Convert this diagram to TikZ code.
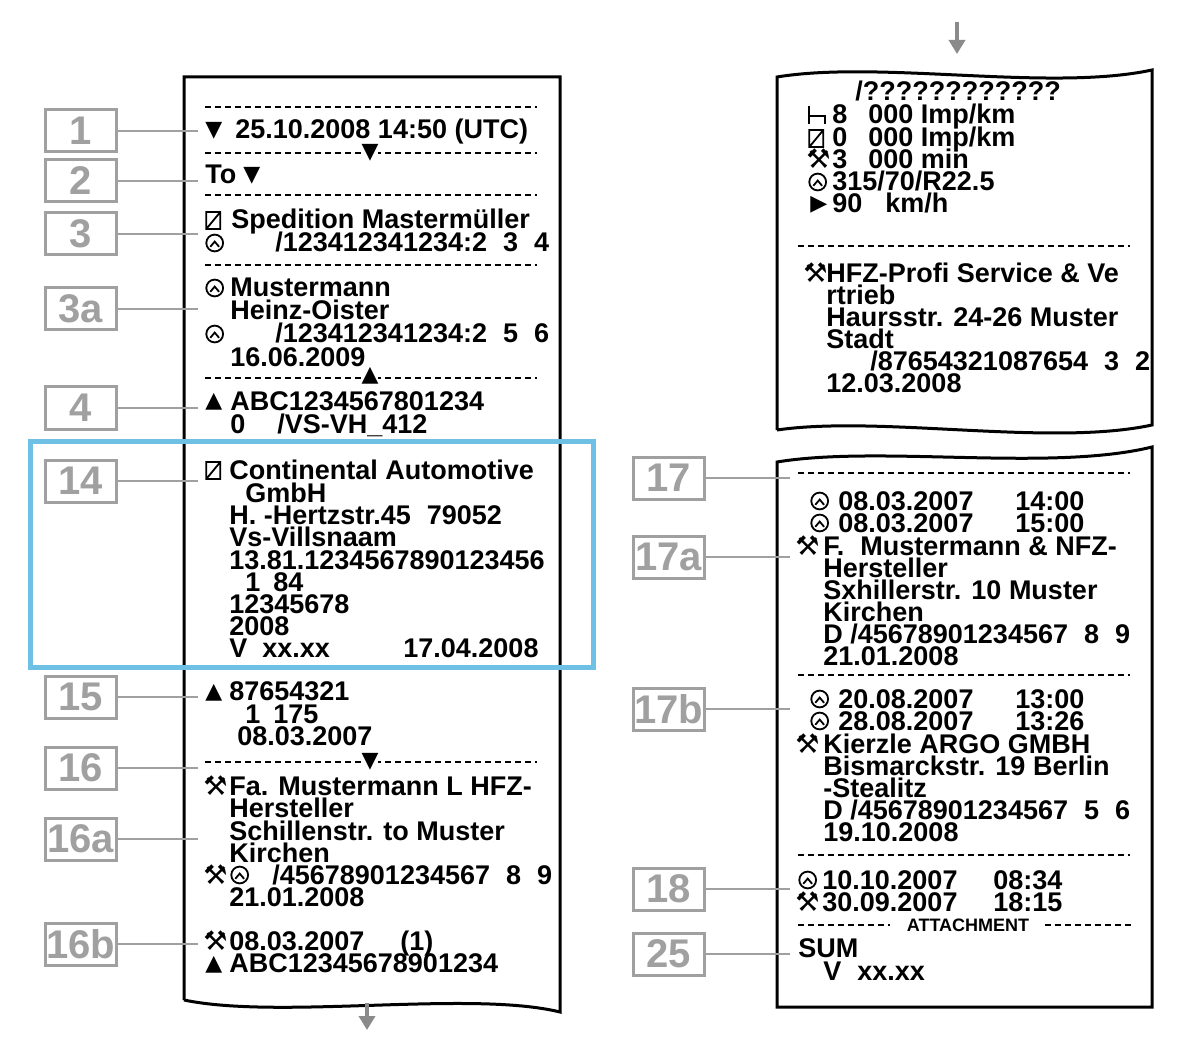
\documentclass[tikz,border=0pt]{standalone}
\usepackage{fontspec}
\setmainfont{Liberation Sans}
\newfontfamily\symf{DejaVu Sans}
\usetikzlibrary{arrows.meta}
\definecolor{lblgray}{HTML}{A0A0A0}
\definecolor{arrgray}{HTML}{8A8A8A}
\definecolor{frameblue}{HTML}{6EC1E4}
\newcommand{\cardsym}{\tikz[baseline=0pt]{\draw[line width=0.9pt] (0pt,0pt) rectangle (7pt,8.5pt) (0pt,0pt)--(7pt,8.5pt);}}
\newcommand{\drvsym}{\tikz[baseline=0pt]{\draw[line width=0.9pt] (4.5pt,4.5pt) circle (4.2pt); \draw[line width=0.9pt] (2.3pt,2.6pt)--(4.5pt,5.2pt)--(6.7pt,2.6pt);}}
\newcommand{\startsym}{\tikz[baseline=0pt]{\draw[line width=0.9pt] (0pt,0pt)--(0pt,9pt) (0pt,4pt)--(8pt,4pt)--(8pt,0pt);}}
\newcommand{\calsym}{{\symf\bfseries ⚒}}
\newcommand{\dn}{{\symf ▼}}
\newcommand{\up}{{\symf ▲}}
\newcommand{\rt}{{\symf ▶}}
\begin{document}
\begin{tikzpicture}[x=0.5pt,y=-0.5pt,
  txt/.style={anchor=base west,inner sep=0pt,font=\fontsize{13.5}{14}\selectfont\bfseries},
  sym/.style={anchor=base west,inner sep=0pt,font=\fontsize{11}{12}\selectfont},
  lbl/.style={draw=lblgray,line width=1.5pt,fill=white,minimum width=35.5pt,minimum height=21pt,inner sep=0pt,text=lblgray,font=\fontsize{20}{20}\selectfont\bfseries},
  conn/.style={draw=lblgray,line width=1pt},
  dsh/.style={line width=1.2pt,dash pattern=on 3pt off 2pt},
  paper/.style={line width=1.5pt},
  garr/.style={draw=arrgray,line width=2pt,-{Triangle[width=8pt,length=7pt]}}]
\useasboundingbox (0,0) rectangle (1200,1048);
% ---------- papers
\draw[paper] (184,1000) -- (184,77) -- (560,77) -- (560,1012) .. controls (470,990) and (280,1020) .. (184,1000);
\draw[paper] (777,430) -- (777,77) .. controls (880,60) and (1050,92) .. (1152,70) -- (1152,425) .. controls (1050,447) and (880,415) .. (777,430);
\draw[paper] (777,1007) -- (777,462) .. controls (880,445) and (1050,472) .. (1152,447) -- (1152,1007) -- cycle;
\coordinate (la1) at (367,1003); \coordinate (la2) at (367,1030);
\coordinate (ra1) at (957,22); \coordinate (ra2) at (957,54);
\draw[garr] (la1) -- (la2);
\draw[garr] (ra1) -- (ra2);
% ---------- blue frame
\draw[frameblue,line width=2.5pt] (30,441) rectangle (593,667);
% ---------- left dashed lines
\draw[dsh] (205,107) -- (537,107);
\draw[dsh] (205,153) -- (537,153);
\node[sym,fill=white,anchor=center] (tri1) at (370,153) {\dn};
\draw[dsh] (205,195) -- (537,195);
\draw[dsh] (205,265) -- (537,265);
\draw[dsh] (205,378) -- (537,378);
\node[sym,fill=white,anchor=center] (tri2) at (370,376) {\up};
\draw[dsh] (205,762) -- (537,762);
\node[sym,fill=white,anchor=center] (tri3) at (370,762) {\dn};
% ---------- left texts
\node[sym] (s1) at (205,137) {\dn};
\node[txt] (t1) at (235,139) {25.10.2008 14:50 (UTC)};
\node[txt] (t2) at (205,184) {To};
\node[sym] (s2) at (243,182) {\dn};
\node[txt] (s3) at (205,229) {\cardsym};
\node[txt] (t3) at (231,229) {Spedition Mastermüller};
\node[txt] (s4) at (205,252) {\drvsym};
\node[txt] (t4) at (275,252) {/123412341234:2\hspace{8pt}3\hspace{8pt}4};
\node[txt] (s5) at (205,297) {\drvsym};
\node[txt] (t5) at (230,297) {Mustermann};
\node[txt] (t6) at (230,320) {Heinz-Oister};
\node[txt] (s6) at (205,343) {\drvsym};
\node[txt] (t7) at (275,343) {/123412341234:2\hspace{8pt}5\hspace{8pt}6};
\node[txt] (t8) at (230,366) {16.06.2009};
\node[sym] (s7) at (205,408) {\up};
\node[txt] (t9) at (230,410) {ABC1234567801234};
\node[txt] (t10) at (230,433) {0};
\node[txt] (t11) at (277,433) {/VS-VH\_412};
\node[txt] (s8) at (205,479) {\cardsym};
\node[txt] (t12) at (229,479) {Continental Automotive};
\node[txt] (t13) at (245,502) {GmbH};
\node[txt] (t14) at (229,524) {H. -Hertzstr.45\hspace{8pt}79052};
\node[txt] (t15) at (229,546) {Vs-Villsnaam};
\node[txt] (t16) at (229,569) {13.81.1234567890123456};
\node[txt] (t17) at (245,591) {1};
\node[txt] (t18) at (273,591) {84};
\node[txt] (t19) at (229,613) {12345678};
\node[txt] (t20) at (229,635) {2008};
\node[txt] (t21) at (229,657) {V};
\node[txt] (t22) at (262,657) {xx.xx};
\node[txt] (t23) at (403,657) {17.04.2008};
\node[sym] (s9) at (205,698) {\up};
\node[txt] (t24) at (229,700) {87654321};
\node[txt] (t25) at (245,723) {1};
\node[txt] (t26) at (273,723) {175};
\node[txt] (t27) at (237,745) {08.03.2007};
\node[txt] (s10) at (203,795) {\calsym};
\node[txt] (t28) at (229,795) {Fa. Mustermann L HFZ-};
\node[txt] (t29) at (229,817) {Hersteller};
\node[txt] (t30) at (229,840) {Schillenstr. to Muster};
\node[txt] (t31) at (229,862) {Kirchen};
\node[txt] (s11) at (203,884) {\calsym};
\node[txt] (s12) at (230,884) {\drvsym};
\node[txt] (t32) at (272,884) {/45678901234567\hspace{8pt}8\hspace{8pt}9};
\node[txt] (t33) at (229,906) {21.01.2008};
\node[txt] (s13) at (203,950) {\calsym};
\node[txt] (t34) at (229,950) {08.03.2007};
\node[txt] (t35) at (400,950) {(1)};
\node[sym] (s14) at (205,970) {\up};
\node[txt] (t36) at (229,972) {ABC12345678901234};
% ---------- right top texts
\node[txt] (r1) at (855,101) {/????????????};
\node[txt] (rs1) at (808,124) {\startsym};
\node[txt] (r2) at (832,124) {8};
\node[txt] (r3) at (868,124) {000 Imp/km};
\node[txt] (rs2) at (808,147) {\cardsym};
\node[txt] (r4) at (832,147) {0};
\node[txt] (r5) at (868,147) {000 Imp/km};
\node[txt] (rs3) at (806,169) {\calsym};
\node[txt] (r6) at (832,169) {3};
\node[txt] (r7) at (868,169) {000 min};
\node[txt] (rs4) at (808,191) {\drvsym};
\node[txt] (r8) at (832,191) {315/70/R22.5};
\node[sym] (rs5) at (810,211) {\rt};
\node[txt] (r9) at (832,213) {90};
\node[txt] (r10) at (885,213) {km/h};
\draw[dsh] (798,246) -- (1130,246);
\node[txt] (rs6) at (803,283) {\calsym};
\node[txt] (r11) at (826,283) {HFZ-Profi Service \& Ve};
\node[txt] (r12) at (826,305) {rtrieb};
\node[txt] (r13) at (826,327) {Haursstr. 24-26 Muster};
\node[txt] (r14) at (826,349) {Stadt};
\node[txt] (r15) at (870,371) {/87654321087654\hspace{8pt}3\hspace{8pt}2};
\node[txt] (r16) at (826,393) {12.03.2008};
% ---------- right bottom texts
\draw[dsh] (798,473) -- (1130,473);
\node[txt] (rs7) at (810,510) {\drvsym};
\node[txt] (r17) at (838,510) {08.03.2007};
\node[txt] (r18) at (1015,510) {14:00};
\node[txt] (rs8) at (810,532) {\drvsym};
\node[txt] (r19) at (838,532) {08.03.2007};
\node[txt] (r20) at (1015,532) {15:00};
\node[txt] (rs9) at (795,555) {\calsym};
\node[txt] (r21) at (823,555) {F.\hspace{8pt}Mustermann \& NFZ-};
\node[txt] (r22) at (823,577) {Hersteller};
\node[txt] (r23) at (823,599) {Sxhillerstr. 10 Muster};
\node[txt] (r24) at (823,621) {Kirchen};
\node[txt] (r25) at (823,643) {D /45678901234567\hspace{8pt}8\hspace{8pt}9};
\node[txt] (r26) at (823,665) {21.01.2008};
\draw[dsh] (798,675) -- (1130,675);
\node[txt] (rs10) at (810,708) {\drvsym};
\node[txt] (r27) at (838,708) {20.08.2007};
\node[txt] (r28) at (1015,708) {13:00};
\node[txt] (rs11) at (810,730) {\drvsym};
\node[txt] (r29) at (838,730) {28.08.2007};
\node[txt] (r30) at (1015,730) {13:26};
\node[txt] (rs12) at (795,753) {\calsym};
\node[txt] (r31) at (823,753) {Kierzle ARGO GMBH};
\node[txt] (r32) at (823,775) {Bismarckstr. 19 Berlin};
\node[txt] (r33) at (823,797) {-Stealitz};
\node[txt] (r34) at (823,819) {D /45678901234567\hspace{8pt}5\hspace{8pt}6};
\node[txt] (r35) at (823,841) {19.10.2008};
\draw[dsh] (798,855) -- (1130,855);
\node[txt] (rs13) at (798,889) {\drvsym};
\node[txt] (r36) at (822,889) {10.10.2007};
\node[txt] (r37) at (993,889) {08:34};
\node[txt] (rs14) at (795,911) {\calsym};
\node[txt] (r38) at (822,911) {30.09.2007};
\node[txt] (r39) at (993,911) {18:15};
\draw[dsh] (798,925) -- (890,925);
\draw[dsh] (1045,925) -- (1133,925);
\node[anchor=center,inner sep=0pt,font=\fontsize{9}{10}\selectfont\bfseries] (att) at (968,925) {ATTACHMENT};
\node[txt] (r40) at (798,957) {SUM};
\node[txt] (r41) at (823,980) {V};
\node[txt] (r42) at (857,980) {xx.xx};
% ---------- labels left
\node[lbl] (L1) at (80.5,131) {1};
\node[lbl] (L2) at (80.5,181) {2};
\node[lbl] (L3) at (80.5,234) {3};
\node[lbl] (L3a) at (80.5,309) {3a};
\node[lbl] (L4) at (80.5,408) {4};
\node[lbl] (L14) at (80.5,481) {14};
\node[lbl] (L15) at (80.5,697) {15};
\node[lbl] (L16) at (80.5,768) {16};
\node[lbl] (L16a) at (80.5,839) {16a};
\node[lbl] (L16b) at (80.5,944) {16b};
\coordinate (c1) at (198,131); \coordinate (c2) at (198,181); \coordinate (c3) at (198,234);
\coordinate (c3a) at (198,309); \coordinate (c4) at (198,408); \coordinate (c14) at (198,481);
\coordinate (c15) at (198,697); \coordinate (c16) at (198,768); \coordinate (c16a) at (198,839);
\coordinate (c16b) at (198,944);
\foreach \a in {1,2,3,3a,4,14,15,16,16a,16b} {\draw[conn] (L\a.east) -- (c\a);}
% ---------- labels right
\node[lbl] (L17) at (668.5,478) {17};
\node[lbl] (L17a) at (668.5,557) {17a};
\node[lbl] (L17b) at (668.5,709) {17b};
\node[lbl] (L18) at (668.5,889) {18};
\node[lbl] (L25) at (668.5,954) {25};
\coordinate (c17) at (790,478); \coordinate (c17a) at (790,557); \coordinate (c17b) at (790,709);
\coordinate (c18) at (790,889); \coordinate (c25) at (790,954);
\foreach \a in {17,17a,17b,18,25} {\draw[conn] (L\a.east) -- (c\a);}
\end{tikzpicture}
\end{document}
